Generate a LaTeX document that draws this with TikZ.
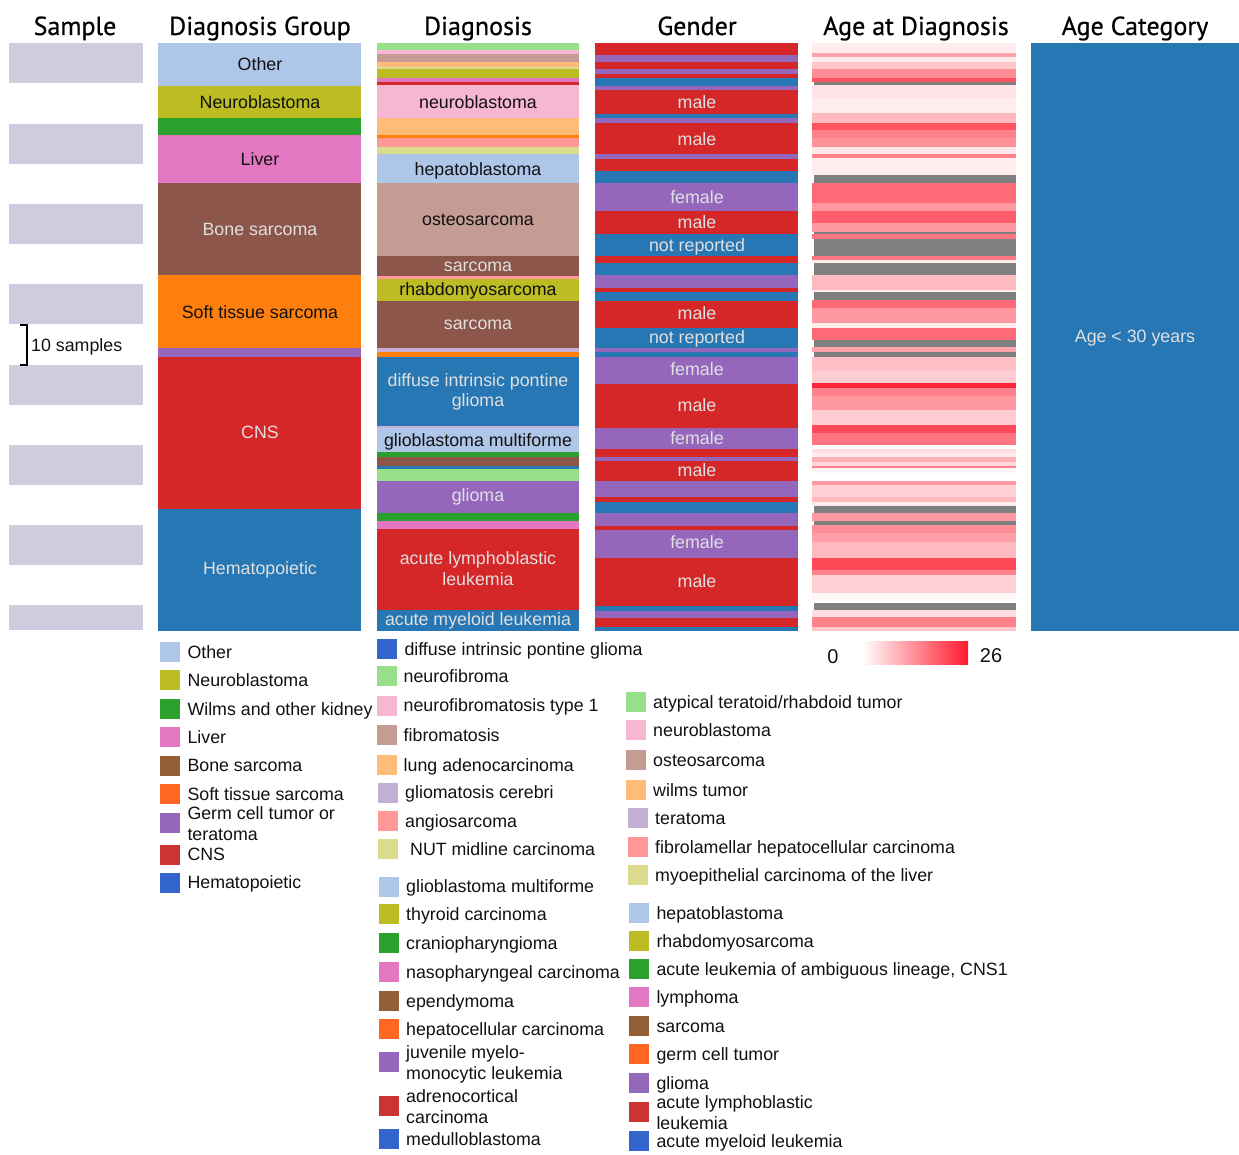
\documentclass[tikz,border=0pt]{standalone}
\usepackage{fontspec}
\setmainfont{Liberation Sans}
\newfontfamily\titlefont{PT Sans}[FakeBold=0.6]
\definecolor{cOther}{HTML}{AEC7E8}
\definecolor{cOlive}{HTML}{BCBD22}
\definecolor{cGreen}{HTML}{2CA02C}
\definecolor{cPink}{HTML}{E377C2}
\definecolor{cBrown}{HTML}{8C564B}
\definecolor{cOrange}{HTML}{FF7F0E}
\definecolor{cPurple}{HTML}{9467BD}
\definecolor{cRed}{HTML}{D62728}
\definecolor{cBlue}{HTML}{2777B4}
\definecolor{cLGreen}{HTML}{98DF8A}
\definecolor{cLPink}{HTML}{F7B6D2}
\definecolor{cTan}{HTML}{C49C94}
\definecolor{cLOrange}{HTML}{FFBB78}
\definecolor{cKhaki}{HTML}{DBDB8D}
\definecolor{cSalmon}{HTML}{FF9896}
\definecolor{cLav}{HTML}{C5B0D5}
\definecolor{cSample}{HTML}{CDCDDF}
\definecolor{cAgeGray}{HTML}{808080}
\definecolor{cAgeRed}{HTML}{FF1A2E}
\definecolor{cLegBrown}{HTML}{955F35}
\definecolor{cLegOrange}{HTML}{FF6622}
\definecolor{cLegRed}{HTML}{CC3333}
\definecolor{cLegBlue}{HTML}{3366CC}
\definecolor{cLight}{HTML}{E0E0E0}
\definecolor{cDark}{HTML}{111111}
\newcommand\legitem[5]{%
  \node[swatch,fill=#4] (#1s) at (#2,#3) {};
  \node[lab,anchor=west] (#1t) at ({#2+17},{#3}) {#5};}
\newcommand\legitemii[6]{%
  \node[swatch,fill=#4] (#1s) at (#2,#3) {};
  \node[lab,anchor=west] (#1t) at ({#2+17},{#3-10}) {#5};
  \node[lab,anchor=west] (#1u) at ({#2+17},{#3+11}) {#6};}
\begin{document}
\begin{tikzpicture}[x=1pt,y=-1pt,
  lab/.style={font=\fontsize{17.8}{20}\selectfont, inner sep=0pt, text height=12.8pt, text depth=0pt, text=cDark},
  lightlab/.style={lab, text=cLight},
  barlab/.style={lab, font=\fontsize{20}{22}\selectfont, text height=14.4pt},
  ttl/.style={font=\titlefont\fontsize{26}{30}\selectfont, inner sep=0pt, text height=18pt, text depth=0pt, text=black},
  swatch/.style={draw=none, minimum width=20pt, minimum height=20pt, inner sep=0pt}]
\useasboundingbox (0,0) rectangle (1239,1155);

% titles
\node[ttl] (tSample) at (75,26) {Sample};
\node[ttl] (tGroup) at (260,26) {Diagnosis Group};
\node[ttl] (tDiag) at (478,26) {Diagnosis};
\node[ttl] (tGender) at (697,26) {Gender};
\node[ttl] (tAge) at (916,26) {Age at Diagnosis};
\node[ttl] (tCat) at (1135,26) {Age Category};

% sample column
\foreach \a/\b in {42.7/83.3,124/164,204/244,284/324.3,365/405,445/485,525/565,605/630}
  \fill[cSample] (9,\a) rectangle (142.7,\b);
\draw[line width=2pt] (20,325) -- (27,325) -- (27,365) -- (20,365);
\node[lab,anchor=west] (tensamples) at (31,345) {10 samples};

% diagnosis group column
\foreach \c/\a/\b in {cOther/42.7/86,cOlive/86/118.3,cGreen/118.3/135,cPink/135/182.7,cBrown/182.7/275,cOrange/275/347.7,cPurple/347.7/356.7,cRed/356.7/509,cBlue/509/631}
  \fill[\c] (158,\a) rectangle (361,\b);
\node[lab] (gOther) at (260,64) {Other};
\node[lab] (gNeuro) at (260,102) {Neuroblastoma};
\node[lab] (gLiver) at (260,159) {Liver};
\node[lightlab] (gBone) at (260,229) {Bone sarcoma};
\node[lab] (gSoft) at (260,312) {Soft tissue sarcoma};
\node[lightlab] (gCNS) at (260,432) {CNS};
\node[lightlab] (gHema) at (260,568) {Hematopoietic};

% diagnosis column
\foreach \c/\a/\b in {cLGreen/42.7/50,cLPink/50/54.3,cTan/54.3/61.7,cLOrange/61.7/66.7,cKhaki/66.7/69.3,cOlive/69.3/78.3,cPink/78.3/82.3,cRed/82.3/85,cLPink/85/118.3,cLOrange/118.3/135,cOrange/135/137.7,cSalmon/137.7/146.7,cKhaki/146.7/154.3,cOther/154.3/182.7,cTan/182.7/255.7,cBrown/255.7/275.7,cSalmon/275.7/279.3,cOlive/279.3/300.7,cBrown/300.7/347.7,cLav/347.7/352.3,cOrange/352.3/356.7,cBlue/356.7/425.7,cLav/425.7/428.3,cOther/428.3/451.7,cGreen/451.7/456.7,cBrown/456.7/466,cBlue/466/469,cLGreen/469/480.7,cPurple/480.7/513.3,cGreen/513.3/521,cPink/521/529.3,cRed/529.3/610,cBlue/610/631}
  \fill[\c] (377,\a) rectangle (579,\b);
\node[lab] (dNeuro) at (478,102) {neuroblastoma};
\node[lab] (dHepa) at (478,169) {hepatoblastoma};
\node[lab] (dOsteo) at (478,219) {osteosarcoma};
\node[lightlab] (dSarc1) at (478,265) {sarcoma};
\node[lab] (dRhab) at (478,289) {rhabdomyosarcoma};
\node[lightlab] (dSarc2) at (478,323) {sarcoma};
\node[lightlab] (dDipgA) at (478,380) {diffuse intrinsic pontine};
\node[lightlab] (dDipgB) at (478,400) {glioma};
\node[lab] (dGbm) at (478,440) {glioblastoma multiforme};
\node[lightlab] (dGlioma) at (478,495) {glioma};
\node[lightlab] (dAllA) at (478,558) {acute lymphoblastic};
\node[lightlab] (dAllB) at (478,579) {leukemia};
\node[lightlab] (dAml) at (478,619) {acute myeloid leukemia};

% gender column
\foreach \c/\a/\b in {cRed/42.7/55,cPurple/55/61.7,cRed/61.7/69.3,cPurple/69.3/74,cRed/74/78.3,cBlue/78.3/86,cPurple/86/90,cRed/90/114,cBlue/114/118.3,cPurple/118.3/123.3,cRed/123.3/154.3,cPurple/154.3/159,cRed/159/171,cBlue/171/182.7,cPurple/182.7/211,cRed/211/234.3,cBlue/234.3/255.7,cRed/255.7/263.3,cBlue/263.3/275,cPurple/275/288.3,cRed/288.3/291.7,cBlue/291.7/300.7,cRed/300.7/328.3,cBlue/328.3/348.3,cPurple/348.3/352.3,cBlue/352.3/357.3,cPurple/357.3/384,cRed/384/428.3,cPurple/428.3/449.3,cRed/449.3/457.3,cPurple/457.3/461,cRed/461/481,cPurple/481/496.7,cRed/496.7/501.7,cBlue/501.7/513.3,cPurple/513.3/525.7,cRed/525.7/530,cPurple/530/558.3,cRed/558.3/606,cBlue/606/611,cPurple/611/617.7,cRed/617.7/626.7,cBlue/626.7/631}
  \fill[\c] (595,\a) rectangle (798,\b);
\node[lightlab] (m1) at (697,102) {male};
\node[lightlab] (m2) at (697,139) {male};
\node[lightlab] (f1) at (697,197) {female};
\node[lightlab] (m3) at (697,222) {male};
\node[lightlab] (n1) at (697,245) {not reported};
\node[lightlab] (m4) at (697,313) {male};
\node[lightlab] (n2) at (697,337) {not reported};
\node[lightlab] (f2) at (697,369) {female};
\node[lightlab] (m5) at (697,405) {male};
\node[lightlab] (f3) at (697,438) {female};
\node[lightlab] (m6) at (697,470) {male};
\node[lightlab] (f4) at (697,542) {female};
\node[lightlab] (m7) at (697,581) {male};

% age at diagnosis column
\foreach \p/\a/\b in {8/42.7/53.3,40/53.3/57.3,8/57.3/61.7,25/61.7/69.3,50/69.3/78.3,75/78.3/82.3,12/85/98,8/98/113.3,30/113.3/123.3,75/123.3/130,55/130/138,48/138/146.7,10/146.7/154,55/154/158.3,8/158.3/175,65/182.7/203.3,45/203.3/211,70/211/223.3,45/223.3/231.7,60/234.3/239.3,60/256/260,8/260/262.7,30/275/290,8/290/291.7,65/300/308.3,45/308.3/323.3,8/323.3/328.3,65/328.3/340,40/347.3/352.3,28/356.7/370,22/370/383.3,95/383.3/388.3,55/388.3/396,45/396/410,22/410/425,80/425/433.3,60/433.3/445,15/449/453.3,8/453.3/456.7,35/456.7/461.7,18/461.7/465.7,55/465.7/468.3,4/468.3/473.3,45/480.7/485,20/485/496.7,30/496.7/501.7,8/501.7/506,45/513.3/520.7,50/525/533,42/533/541.7,30/541.7/558.3,80/558.3/570,55/570/575,20/575/593.3,3/593.3/601.7,15/610/617.3,55/617.3/626.7,25/626.7/631}
  \fill[cAgeRed!\p!white] (812,\a) rectangle (1016,\b);
\foreach \a/\b in {82.3/85,175/182.7,231.7/234.3,239.3/256,262.7/275,291.7/300,340/347.3,352.3/356.7,506/513.3,520.7/525,602.7/610}
  \fill[cAgeGray] (813.5,\a) rectangle (1016,\b);

% age category column
\fill[cBlue] (1030.7,42.7) rectangle (1239,631);
\node[lightlab] (catlab) at (1135,336) {Age < 30 years};

% colour bar
\shade[left color=white, right color=cAgeRed] (862,641) rectangle (968,664);
\node[barlab] (cb0) at (833,656) {0};
\node[barlab] (cb26) at (991,655) {26};

% legend 1: diagnosis group
\legitem{a1}{170.3}{652}{cOther}{Other}
\legitem{a2}{170.3}{680}{cOlive}{Neuroblastoma}
\legitem{a3}{170.3}{709}{cGreen}{Wilms and other kidney}
\legitem{a4}{170.3}{737}{cPink}{Liver}
\legitem{a5}{170.3}{765.5}{cLegBrown}{Bone sarcoma}
\legitem{a6}{170.3}{794}{cLegOrange}{Soft tissue sarcoma}
\legitemii{a7}{170.3}{823}{cPurple}{Germ cell tumor or}{teratoma}
\legitem{a8}{170.3}{854.5}{cLegRed}{CNS}
\legitem{a9}{170.3}{882.5}{cLegBlue}{Hematopoietic}

% legend 2: diagnosis (first column)
\legitem{b1}{387.3}{649}{cLegBlue}{diffuse intrinsic pontine glioma}
\legitem{b2}{386.5}{676}{cLGreen}{neurofibroma}
\legitem{b3}{386.5}{705.5}{cLPink}{neurofibromatosis type 1}
\legitem{b4}{386.5}{735}{cTan}{fibromatosis}
\legitem{b5}{386.5}{765}{cLOrange}{lung adenocarcinoma}
\legitem{b6}{388}{792.5}{cLav}{gliomatosis cerebri}
\legitem{b7}{388}{821}{cSalmon}{angiosarcoma}
\legitem{b8}{388}{849}{cKhaki}{\ NUT midline carcinoma}
\legitem{b9}{389}{886.5}{cOther}{glioblastoma multiforme}
\legitem{b10}{389}{914}{cOlive}{thyroid carcinoma}
\legitem{b11}{389}{943.3}{cGreen}{craniopharyngioma}
\legitem{b12}{389}{972}{cPink}{nasopharyngeal carcinoma}
\legitem{b13}{389}{1000.7}{cLegBrown}{ependymoma}
\legitem{b14}{389}{1029}{cLegOrange}{hepatocellular carcinoma}
\legitemii{b15}{389}{1062.3}{cPurple}{juvenile myelo-}{monocytic leukemia}
\legitemii{b16}{389}{1106}{cLegRed}{adrenocortical}{carcinoma}
\legitem{b17}{389}{1139.3}{cLegBlue}{medulloblastoma}

% legend 3: diagnosis (second column)
\legitem{c1}{636}{701.7}{cLGreen}{atypical teratoid/rhabdoid tumor}
\legitem{c2}{636}{730}{cLPink}{neuroblastoma}
\legitem{c3}{636}{760.3}{cTan}{osteosarcoma}
\legitem{c4}{636}{790}{cLOrange}{wilms tumor}
\legitem{c5}{638}{818.3}{cLav}{teratoma}
\legitem{c6}{638}{846.7}{cSalmon}{fibrolamellar hepatocellular carcinoma}
\legitem{c7}{638}{875}{cKhaki}{myoepithelial carcinoma of the liver}
\legitem{c8}{639.3}{912.7}{cOther}{hepatoblastoma}
\legitem{c9}{639.3}{940.7}{cOlive}{rhabdomyosarcoma}
\legitem{c10}{639.3}{969.3}{cGreen}{acute leukemia of ambiguous lineage, CNS1}
\legitem{c11}{639.3}{997.3}{cPink}{lymphoma}
\legitem{c12}{639.3}{1026}{cLegBrown}{sarcoma}
\legitem{c13}{639.3}{1054}{cLegOrange}{germ cell tumor}
\legitem{c14}{639.3}{1082.7}{cPurple}{glioma}
\legitemii{c15}{639.3}{1111.7}{cLegRed}{acute lymphoblastic}{leukemia}
\legitem{c16}{639.3}{1140.7}{cLegBlue}{acute myeloid leukemia}
\end{tikzpicture}
\end{document}
